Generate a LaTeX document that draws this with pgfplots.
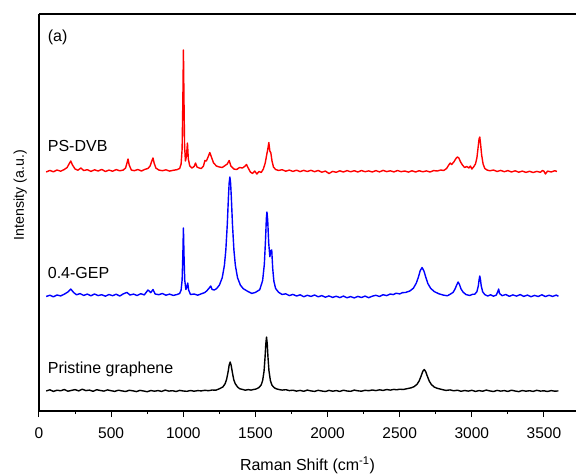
\documentclass[border=0pt]{standalone}
\usepackage{pgfplots}
\pgfplotsset{compat=1.18}
\usepackage{pgfplotstable}
\usepackage{fontspec}
\setmainfont{Liberation Sans}

% Raman spectra, stacked with vertical offsets (arbitrary units)
\pgfplotstableread{
x y
50 20.0
75 21.2
100 19.6
125 20.8
150 20.2
175 21.5
200 19.8
225 20.6
250 21.4
275 20.1
300 21.8
325 20.4
350 20.9
375 19.7
400 21.3
425 20.5
450 19.9
475 21.1
500 20.3
525 19.6
550 20.8
575 20.1
600 19.5
625 20.7
650 20.2
675 19.4
700 20.6
725 20.0
750 19.3
775 20.5
800 19.8
825 20.4
850 19.6
875 20.9
900 19.9
925 20.3
950 19.5
975 20.6
1000 20.0
1025 19.7
1050 20.5
1075 19.8
1100 20.4
1125 20.1
1150 20.7
1175 20.3
1200 21.0
1225 20.8
1250 22.2
1275 24.1
1290 27.3
1300 31.5
1310 38.6
1318 45.8
1325 49.0
1332 45.6
1340 38.8
1350 31.2
1360 27.4
1375 24.2
1390 22.3
1410 21.6
1430 20.8
1450 21.4
1470 20.9
1490 21.6
1505 22.0
1525 23.5
1540 26.1
1550 30.4
1560 40.0
1567 54.2
1572 67.0
1577 74.0
1582 67.2
1587 54.0
1594 40.1
1604 30.3
1614 26.0
1630 23.3
1645 22.2
1660 21.6
1685 20.9
1710 21.3
1735 20.4
1760 20.8
1785 19.9
1810 20.6
1835 19.7
1860 20.9
1885 20.1
1910 19.6
1935 20.7
1960 20.0
1985 19.5
2010 20.6
2035 19.8
2060 20.4
2085 19.6
2110 20.8
2135 20.0
2160 19.7
2185 20.9
2210 20.2
2235 19.8
2260 20.7
2285 20.3
2310 21.0
2335 20.4
2360 21.2
2385 20.6
2410 21.5
2435 20.9
2460 21.6
2480 21.2
2500 21.8
2525 21.5
2550 22.3
2580 23.2
2600 24.4
2620 26.7
2635 30.1
2650 35.6
2660 39.7
2670 41.5
2680 39.5
2690 35.4
2705 29.9
2720 26.4
2740 23.9
2760 22.7
2790 21.6
2820 20.6
2850 21.1
2875 20.2
2900 20.8
2925 19.7
2950 20.5
2975 19.9
3000 20.7
3025 19.6
3050 20.4
3075 19.8
3100 20.9
3125 20.1
3150 19.5
3175 20.6
3200 19.9
3225 20.4
3250 19.6
3275 20.8
3300 20.0
3325 19.4
3350 20.5
3375 19.8
3400 20.3
3425 19.6
3450 20.7
3475 19.9
3500 20.2
3525 19.5
3550 20.4
3575 19.8
3600 20.1
}\graphene

\pgfplotstableread{
x y
50 114.5
75 115.8
100 114.2
125 116.0
150 115.1
175 116.8
200 119.0
220 122.0
240 118.5
260 116.2
285 117.4
310 115.6
335 116.9
360 115.2
385 117.0
410 115.4
435 116.3
460 114.8
485 116.5
510 115.3
535 116.8
560 115.0
585 117.2
610 118.6
630 116.0
655 116.9
680 115.5
705 117.3
730 116.1
755 121.0
775 118.4
790 121.5
805 117.0
830 116.3
855 117.5
880 115.8
905 116.9
930 115.6
955 116.4
975 117.5
985 121.0
992 131.0
997 156.0
1001 183.0
1005 156.0
1010 131.0
1018 121.5
1025 124.0
1031 128.0
1037 121.0
1050 116.5
1075 117.0
1100 115.8
1125 117.2
1150 118.5
1165 120.5
1180 123.0
1190 125.0
1200 121.5
1215 121.0
1230 122.3
1250 125.8
1270 133.3
1285 145.6
1295 161.0
1305 186.5
1313 213.8
1318 228.0
1323 234.0
1328 228.0
1333 213.8
1341 186.5
1351 161.0
1361 145.6
1376 133.3
1396 125.8
1416 122.3
1446 119.7
1475 117.6
1500 118.6
1530 121.3
1550 130.5
1562 147.0
1570 171.0
1576 193.0
1580 199.0
1585 191.3
1592 168.3
1600 154.3
1608 160.7
1613 161.0
1620 142.3
1628 129.8
1640 122.5
1660 118.8
1685 116.5
1710 117.2
1735 115.4
1760 116.6
1785 115.0
1810 116.2
1835 114.3
1860 115.7
1885 114.6
1910 116.0
1935 114.2
1960 115.4
1985 113.8
2010 115.1
2035 113.6
2060 114.8
2085 113.4
2110 114.9
2135 113.2
2160 114.4
2185 113.1
2210 114.6
2235 113.5
2260 114.9
2285 113.3
2310 114.8
2335 115.7
2360 114.5
2385 116.3
2410 115.4
2435 117.0
2455 116.4
2475 117.8
2500 117.1
2520 118.4
2540 118.5
2570 120.0
2595 122.8
2615 127.9
2630 134.0
2642 140.3
2655 143.5
2668 140.0
2680 134.2
2695 127.5
2715 122.6
2740 119.4
2770 117.3
2800 116.0
2830 115.2
2850 116.8
2870 118.6
2885 122.4
2895 126.0
2905 129.0
2915 126.3
2925 122.0
2940 118.8
2960 116.4
2985 115.5
3005 116.7
3020 116.8
3035 119.3
3045 125.0
3050 131.0
3055 135.0
3060 131.2
3065 125.3
3075 119.2
3090 116.4
3110 115.0
3130 116.2
3150 114.8
3170 116.0
3180 119.5
3186 122.0
3192 117.5
3210 115.3
3235 116.5
3260 114.7
3285 116.1
3310 114.9
3335 116.4
3360 114.6
3385 115.9
3410 114.3
3435 115.6
3460 114.5
3485 116.2
3510 114.4
3535 115.8
3560 114.6
3585 115.9
3600 114.8
}\gep

\pgfplotstableread{
x y
50 239.0
75 240.6
100 239.2
125 241.0
150 239.8
175 241.5
195 243.5
210 247.5
220 250.0
232 246.0
250 242.0
270 240.8
290 243.0
310 240.5
335 241.3
360 239.6
385 241.2
410 240.0
435 241.6
460 239.5
485 240.9
510 239.8
535 241.4
560 240.2
585 241.0
600 243.0
610 248.0
617 252.0
625 246.0
640 241.0
660 240.3
685 241.5
710 240.0
735 241.7
755 242.5
770 245.0
782 250.0
790 253.0
798 248.0
810 243.0
830 241.0
855 240.3
880 241.2
905 239.9
930 240.7
955 241.3
975 242.5
985 247.0
992 262.0
997 310.0
1001 361.0
1005 310.0
1009 265.0
1015 250.0
1022 255.0
1029 268.0
1035 252.0
1045 245.0
1060 243.0
1075 244.5
1085 248.0
1095 244.0
1110 243.0
1125 242.5
1140 245.0
1150 250.5
1160 250.0
1172 254.0
1184 258.5
1195 254.0
1210 248.0
1230 245.0
1250 244.0
1270 243.5
1290 245.5
1305 247.0
1318 250.5
1330 245.0
1350 242.0
1370 241.5
1390 243.5
1410 243.0
1425 244.5
1438 246.5
1450 243.0
1465 239.0
1480 237.5
1495 240.0
1510 237.0
1525 239.5
1540 238.5
1555 242.0
1568 248.0
1578 256.0
1586 262.0
1593 268.5
1600 260.0
1607 258.0
1615 250.0
1625 244.0
1640 241.5
1660 240.5
1685 241.3
1710 239.8
1735 240.9
1760 239.6
1785 240.8
1810 239.4
1835 240.6
1860 239.5
1885 240.7
1910 239.3
1935 240.5
1960 238.8
1985 239.9
2010 237.5
2035 239.6
2060 238.7
2085 240.2
2110 239.0
2135 240.4
2160 239.2
2185 240.3
2210 239.0
2235 240.5
2260 239.3
2285 240.1
2310 239.0
2335 240.4
2360 239.1
2385 240.6
2410 239.4
2435 240.2
2460 239.1
2485 240.5
2510 239.3
2535 240.0
2560 238.9
2585 240.2
2610 239.0
2635 240.3
2660 239.2
2685 240.1
2710 239.0
2735 240.4
2760 240.0
2785 241.0
2805 240.5
2825 242.5
2840 246.0
2850 248.0
2860 246.5
2875 249.0
2890 252.5
2900 254.0
2910 253.0
2922 249.0
2935 246.0
2950 243.5
2965 244.5
2980 243.0
2990 245.0
3000 242.0
3012 244.0
3025 247.0
3035 253.0
3043 263.0
3050 272.0
3055 274.0
3060 268.0
3068 256.0
3078 247.0
3090 242.5
3105 241.0
3125 240.2
3150 241.0
3175 239.5
3200 240.6
3225 239.3
3250 240.4
3275 239.0
3300 240.2
3325 238.8
3350 239.9
3375 238.6
3400 239.7
3425 238.5
3450 239.6
3475 238.7
3490 240.5
3500 239.8
3510 237.0
3525 239.9
3550 239.0
3575 240.3
3590 239.5
}\psdvb

\begin{document}
\begin{tikzpicture}
\begin{axis}[
  name=ax,
  scale only axis,
  width=537pt, height=397pt,
  xmin=0, xmax=3722, ymin=0, ymax=397,
  axis x line*=bottom, axis y line*=left,
  axis line style={line width=1.2pt},
  xtick={0,500,...,3500}, ytick=\empty,
  minor x tick num=1,
  tick align=outside,
  major tick length=6pt, minor tick length=3pt,
  every tick/.style={black, line width=1pt},
  /pgf/number format/assume math mode=true,
  /pgf/number format/1000 sep={},
  xticklabel style={font=\fontsize{15.5}{18}\selectfont, yshift=-7pt},
  xlabel={Raman Shift (cm\textsuperscript{-1})},
  ylabel={Intensity (a.u.)},
  xlabel style={font=\fontsize{16}{18}\selectfont, at={(axis description cs:0.5,-0.136)}, anchor=center},
  ylabel style={font=\fontsize{14.2}{16}\selectfont, at={(axis description cs:-0.035,0.544)}, anchor=center},
  every axis plot/.append style={line width=1.4pt, line join=round},
]
\addplot[black] table {\graphene};
\addplot[blue] table {\gep};
\addplot[red] table {\psdvb};

\node[anchor=base west, inner sep=0, font=\fontsize{16}{18}\selectfont] at (axis cs:60,370) {(a)};
\node[anchor=base west, inner sep=0, font=\fontsize{16}{18}\selectfont] at (axis cs:60,260) {PS-DVB};
\node[anchor=base west, inner sep=0, font=\fontsize{16}{18}\selectfont] at (axis cs:60,133) {0.4-GEP};
\node[anchor=base west, inner sep=0, font=\fontsize{16}{18}\selectfont] at (axis cs:60,38) {Pristine graphene};
\end{axis}
% top frame line (the right edge is left open)
\draw[line width=1.2pt] (ax.north west) -- (ax.north east);
\pgfresetboundingbox
\path ([xshift=-39pt,yshift=-64pt]ax.south west) rectangle ([yshift=14pt]ax.north east);
\end{tikzpicture}
\end{document}
